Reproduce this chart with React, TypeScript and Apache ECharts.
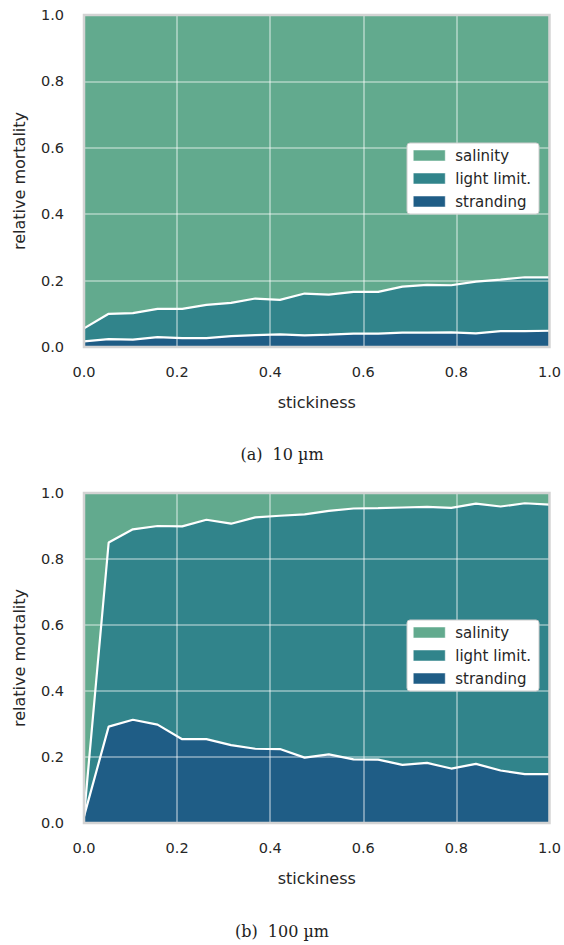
import React, { useEffect, useRef } from "react";
import * as echarts from "echarts";

const stickiness = [0, 0.053, 0.105, 0.158, 0.211, 0.263, 0.316, 0.368, 0.421, 0.474, 0.526, 0.579, 0.632, 0.684, 0.737, 0.789, 0.842, 0.895, 0.947, 1.0];

// (a) 10 µm
const strandingA = [0.017, 0.024, 0.022, 0.030, 0.027, 0.027, 0.033, 0.036, 0.038, 0.035, 0.037, 0.040, 0.040, 0.043, 0.043, 0.044, 0.041, 0.048, 0.048, 0.049];
const lightA = [0.039, 0.076, 0.080, 0.085, 0.088, 0.100, 0.100, 0.110, 0.104, 0.126, 0.121, 0.126, 0.126, 0.139, 0.144, 0.142, 0.156, 0.155, 0.162, 0.161];
const salinityA = [0.944, 0.900, 0.898, 0.885, 0.885, 0.873, 0.867, 0.854, 0.858, 0.839, 0.842, 0.834, 0.834, 0.818, 0.813, 0.814, 0.803, 0.797, 0.790, 0.790];

// (b) 100 µm
const strandingB = [0.02, 0.292, 0.313, 0.298, 0.254, 0.254, 0.236, 0.225, 0.224, 0.198, 0.208, 0.193, 0.192, 0.176, 0.182, 0.165, 0.179, 0.159, 0.148, 0.148];
const lightB = [0.0, 0.558, 0.577, 0.602, 0.645, 0.665, 0.671, 0.701, 0.707, 0.737, 0.738, 0.760, 0.762, 0.780, 0.776, 0.790, 0.789, 0.800, 0.821, 0.817];
const salinityB = [0.98, 0.150, 0.110, 0.100, 0.101, 0.081, 0.093, 0.074, 0.069, 0.065, 0.054, 0.047, 0.046, 0.044, 0.042, 0.045, 0.032, 0.041, 0.031, 0.035];

const yTicks = [0, 0.2, 0.4, 0.6, 0.8, 1.0];
const seriesNames = ["salinity", "light limit.", "stranding"];
const captions = ["(a)  10 µm", "(b)  100 µm"];

const COLORS: Record<string, string> = {
  salinity: "#62aa8e",
  "light limit.": "#31848b",
  stranding: "#1f5d86",
};

const TEXT = "#262626";
const SANS = "DejaVu Sans";

export default function App() {
  const ref = useRef<HTMLDivElement>(null);
  useEffect(() => {
    if (!ref.current) return;
    const chart = echarts.init(ref.current, null, { renderer: "svg" });

    const grids = [
      { left: 84, top: 15, width: 466, height: 332 },
      { left: 84, top: 493, width: 466, height: 330 },
    ];

    const mkX = (gi: number) => ({
      type: "value",
      gridIndex: gi,
      min: 0,
      max: 1,
      interval: 0.2,
      z: 3,
      name: "stickiness",
      nameLocation: "middle",
      nameGap: 47,
      nameTextStyle: { color: TEXT, fontSize: 16, fontFamily: SANS },
      axisLine: { show: false },
      axisTick: { show: false },
      axisLabel: {
        color: TEXT,
        fontSize: 14.5,
        fontFamily: SANS,
        margin: 17,
        formatter: (v: number) => v.toFixed(1),
      },
      splitLine: { show: true, lineStyle: { color: "rgba(255,255,255,0.5)", width: 1.6 } },
    });
    const mkY = (gi: number) => ({
      type: "value",
      gridIndex: gi,
      min: yTicks[0],
      max: yTicks[yTicks.length - 1],
      interval: 0.2,
      z: 3,
      name: "relative mortality",
      nameLocation: "middle",
      nameGap: 57,
      nameTextStyle: { color: TEXT, fontSize: 16, fontFamily: SANS },
      axisLine: { show: false },
      axisTick: { show: false },
      axisLabel: {
        color: TEXT,
        fontSize: 14.5,
        fontFamily: SANS,
        margin: 20,
        formatter: (v: number) => v.toFixed(1),
      },
      splitLine: { show: true, lineStyle: { color: "rgba(255,255,255,0.5)", width: 1.6 } },
    });

    // cumulative tops, drawn as overlapping areas filled down to zero
    const mkSeries = (gi: number, stranding: number[], light: number[], salinity: number[]) => {
      const topStr = stranding;
      const topLight = stranding.map((s, i) => s + light[i]);
      const topSal = topLight.map((t, i) => t + salinity[i]);
      const sets: [string, number[]][] = [
        ["salinity", topSal],
        ["light limit.", topLight],
        ["stranding", topStr],
      ];
      return sets.map(([name, vals], k) => ({
        type: "line",
        name,
        xAxisIndex: gi,
        yAxisIndex: gi,
        data: vals.map((v, i) => [stickiness[i], v]),
        showSymbol: false,
        symbol: "none",
        color: COLORS[name],
        itemStyle: { color: COLORS[name] },
        lineStyle: name === "salinity" ? { width: 0, opacity: 0 } : { color: "#ffffff", width: 2.2 },
        areaStyle: { color: COLORS[name], opacity: 1, origin: "start" },
        z: 2,
        z2: k,
      }));
    };

    const mkLegend = (top: number) => ({
      orient: "vertical",
      left: 407,
      top,
      data: seriesNames.map((n) => ({ name: n, icon: "rect", itemStyle: { color: COLORS[n], borderColor: "#fff", borderWidth: 0.5 } })),
      itemWidth: 32,
      itemHeight: 11,
      itemGap: 8,
      padding: [5, 8, 5, 6],
      backgroundColor: "#ffffff",
      borderColor: "#cccccc",
      borderWidth: 1,
      borderRadius: 3,
      selectedMode: false,
      textStyle: { color: TEXT, fontSize: 15, fontFamily: SANS, lineHeight: 15, padding: [0, 0, 0, 5] },
    });

    chart.setOption({
      animation: false,
      backgroundColor: "#ffffff",
      grid: grids.map((g) => ({
        ...g,
        show: true,
        z: 5,
        backgroundColor: "transparent",
        borderColor: "#d3d3d3",
        borderWidth: 2.5,
      })),
      xAxis: [mkX(0), mkX(1)],
      yAxis: [mkY(0), mkY(1)],
      legend: [mkLegend(143), mkLegend(620)],
      series: [...mkSeries(0, strandingA, lightA, salinityA), ...mkSeries(1, strandingB, lightB, salinityB)],
      graphic: [
        {
          type: "text",
          left: "center",
          top: 446,
          style: { text: captions[0], fill: "#222", font: "16px 'DejaVu Serif'" },
        },
        {
          type: "text",
          left: "center",
          top: 923,
          style: { text: captions[1], fill: "#222", font: "16px 'DejaVu Serif'" },
        },
      ],
    });
    return () => chart.dispose();
  }, []);

  return <div ref={ref} style={{ position: "absolute", left: 0, top: 0, width: 564, height: 945 }} />;
}
